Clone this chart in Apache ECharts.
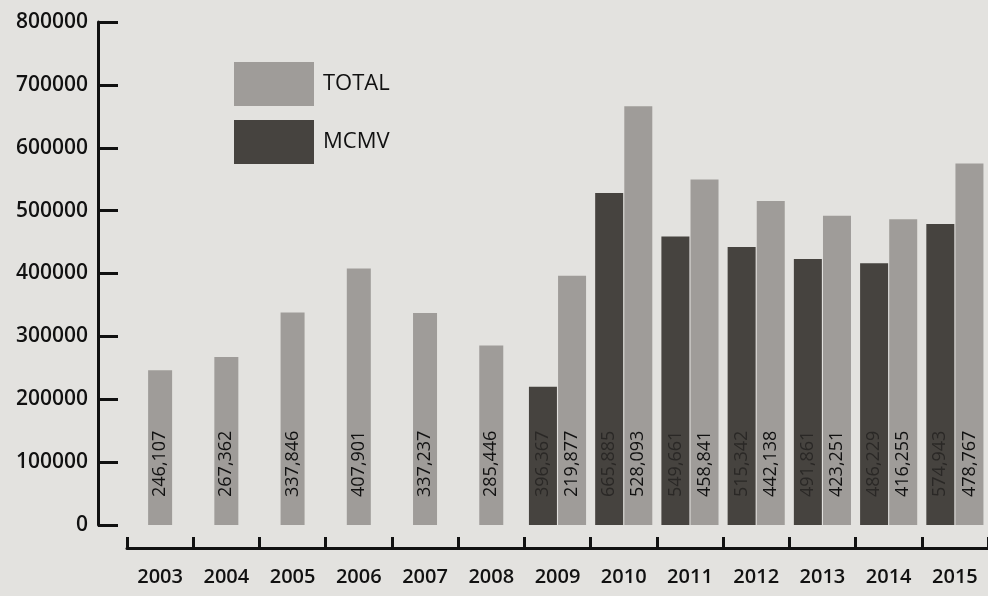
<!DOCTYPE html>
<html>
<head>
<meta charset="utf-8">
<script src="https://cdn.jsdelivr.net/npm/echarts@6/dist/echarts.min.js"></script>
<style>
html,body{margin:0;padding:0;background:#e3e2df;}
#c{width:988px;height:596px;}
</style>
</head>
<body>
<div id="c"></div>
<script>
var years = ['2003','2004','2005','2006','2007','2008','2009','2010','2011','2012','2013','2014','2015'];
var totalValues = [246107, 267362, 337846, 407901, 337237, 285446, 396367, 665885, 549661, 515342, 491861, 486229, 574943];
var mcmvValues = [null, null, null, null, null, null, 219877, 528093, 458841, 442138, 423251, 416255, 478767];
var yTicks = [0, 100000, 200000, 300000, 400000, 500000, 600000, 700000, 800000];

var LIGHT = '#9f9c99';
var DARK = '#46433f';

// years with only TOTAL drawn as a single centred bar
var totalSingle = totalValues.map(function (v, i) { return mcmvValues[i] == null ? v : '-'; });
var totalPaired = totalValues.map(function (v, i) { return mcmvValues[i] == null ? '-' : v; });
var mcmvPaired = mcmvValues.map(function (v) { return v == null ? '-' : v; });

function fmt(n) { return String(n).replace(/\B(?=(\d{3})+(?!\d))/g, ','); }

var labelBase = {
  show: true,
  position: 'insideBottom',
  rotate: 90,
  align: 'left',
  verticalAlign: 'middle',
  distance: 28,
  fontFamily: 'Open Sans',
  fontSize: 18,
  color: '#111'
};

var chart = echarts.init(document.getElementById('c'), null, {renderer: 'canvas'});
chart.setOption({
  backgroundColor: '#e3e2df',
  animation: false,
  legend: {
    orient: 'vertical',
    left: 234,
    top: 62,
    padding: 0,
    itemWidth: 80,
    itemHeight: 44,
    itemGap: 14,
    icon: 'rect',
    data: ['TOTAL', 'MCMV'],
    textStyle: { fontFamily: 'Open Sans', fontWeight: 500, fontSize: 22, color: '#111', padding: [0, 0, 0, 4] }
  },
  grid: { left: 127, top: 22, width: 881, bottom: 71, containLabel: false },
  xAxis: [{
    type: 'category',
    data: years,
    offset: 23,
    axisLine: { show: true, onZero: false, lineStyle: { color: '#111', width: 3 } },
    axisTick: { show: true, inside: true, length: 11, lineStyle: { color: '#111', width: 3 } },
    axisLabel: { fontFamily: 'Open Sans', fontWeight: 600, fontSize: 20, color: '#111', margin: 19 }
  }, {
    type: 'category',
    data: years,
    show: false
  }],
  yAxis: {
    type: 'value',
    min: 0,
    max: 800000,
    interval: 100000,
    offset: 29,
    splitLine: { show: false },
    axisLine: { show: true, lineStyle: { color: '#111', width: 3 } },
    axisTick: { show: true, inside: true, length: 20, lineStyle: { color: '#111', width: 3 } },
    axisLabel: {
      fontFamily: 'Open Sans', fontWeight: 600, fontSize: 21, color: '#111', margin: 10,
      formatter: function (v) { return yTicks.indexOf(v) >= 0 ? String(v) : ''; }
    }
  },
  series: [{
    name: 'TOTAL',
    type: 'bar',
    xAxisIndex: 1,
    data: totalSingle,
    barWidth: 24,
    itemStyle: { color: LIGHT },
    label: Object.assign({}, labelBase, { formatter: function (p) { return fmt(totalValues[p.dataIndex]); } })
  }, {
    name: 'MCMV',
    type: 'bar',
    xAxisIndex: 0,
    data: mcmvPaired,
    barWidth: 28,
    barGap: '4%',
    itemStyle: { color: DARK },
    // as printed: the dark bar carries the TOTAL figure
    label: Object.assign({}, labelBase, { color: '#2a2826', formatter: function (p) { return fmt(totalValues[p.dataIndex]); } })
  }, {
    name: 'TOTAL',
    type: 'bar',
    xAxisIndex: 0,
    data: totalPaired,
    barWidth: 28,
    barGap: '4%',
    itemStyle: { color: LIGHT },
    // as printed: the light bar carries the MCMV figure
    label: Object.assign({}, labelBase, { formatter: function (p) { return fmt(mcmvValues[p.dataIndex]); } })
  }]
});
</script>
</body>
</html>
